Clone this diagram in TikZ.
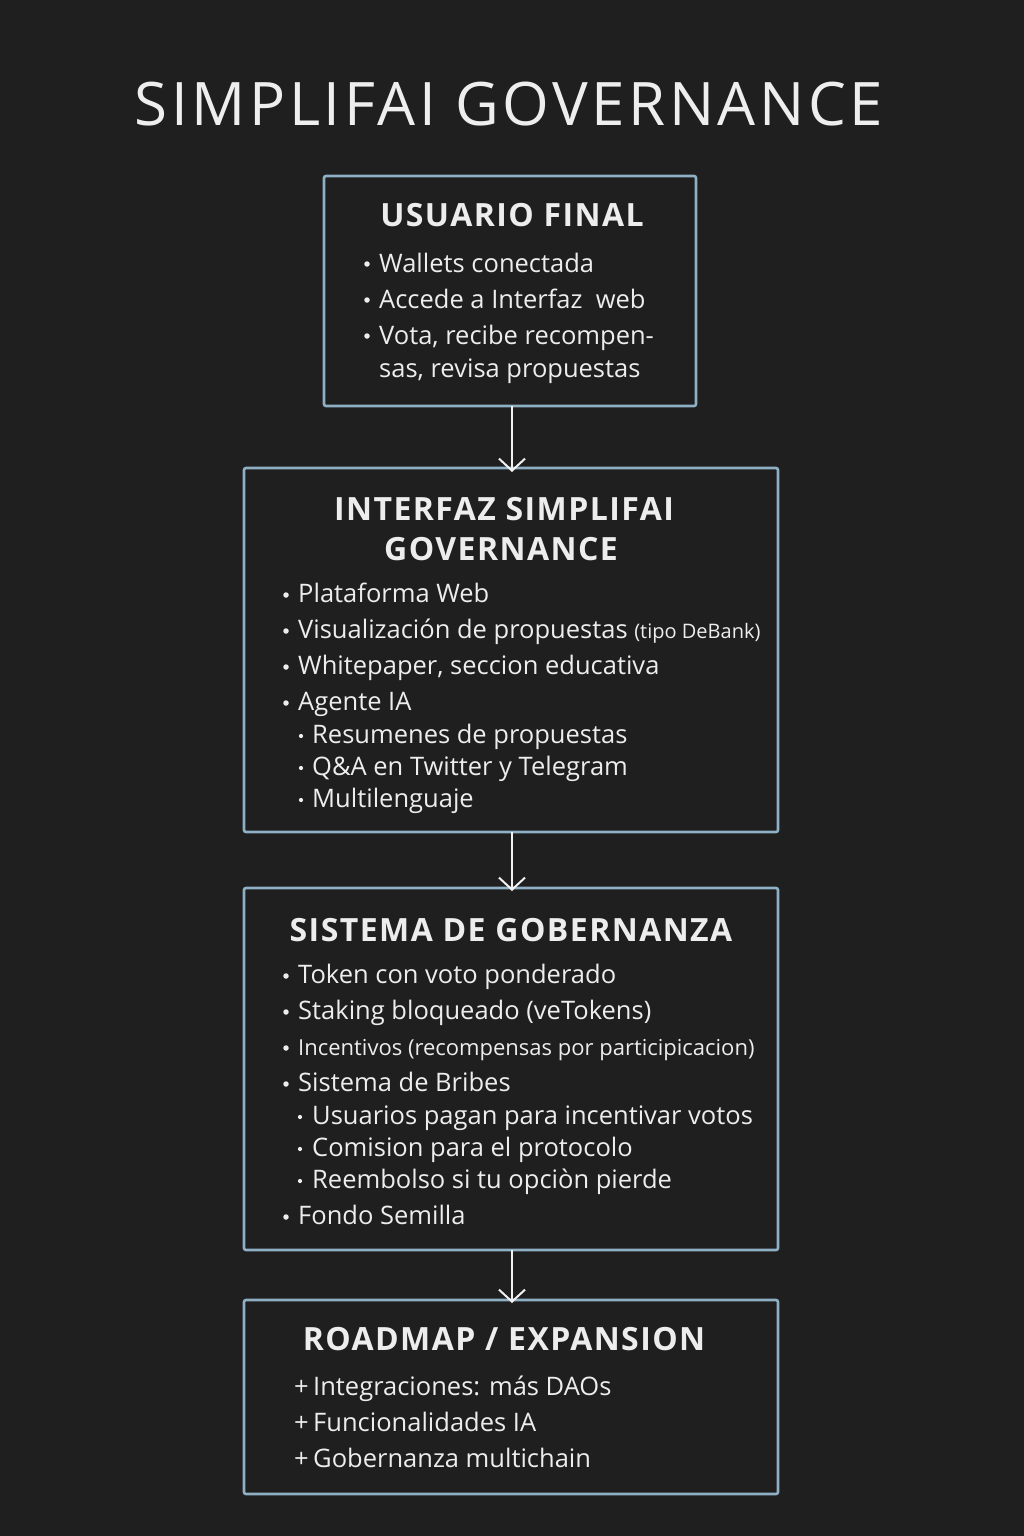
\documentclass[tikz,border=0pt]{standalone}
\usepackage{fontspec}
\setmainfont{Open Sans}
\usetikzlibrary{arrows.meta}
\definecolor{bg}{HTML}{1F1F1F}
\definecolor{frame}{HTML}{8FB0C4}
\definecolor{ink}{HTML}{EDEDED}
\newcommand{\bodyfont}{\fontsize{25.5}{30}\selectfont}
\newcommand{\smallbody}{\fontsize{20}{24}\selectfont}
\newcommand{\headfont}{\fontsize{32}{40}\selectfont\bfseries\addfontfeatures{LetterSpace=4.5}}
\tikzset{
  box/.style={draw=frame, line width=2.6pt, rounded corners=2pt, fill=bg},
  head/.style={text=ink, font=\headfont, inner sep=0pt, anchor=center, align=center},
  item/.style={text=ink, font=\bodyfont, inner sep=0pt, anchor=base west},
  dot/.style={circle, fill=ink, inner sep=0pt, minimum size=5.5pt},
  subdot/.style={circle, fill=ink, inner sep=0pt, minimum size=4.2pt},
  flow/.style={draw=ink!78, line width=2pt, -{Straight Barb[length=12pt,width=26pt,line width=2pt]}}
}
\begin{document}
\begin{tikzpicture}[x=1pt,y=-1pt]
\fill[bg] (0,0) rectangle (1024,1536);
\useasboundingbox (0,0) rectangle (1024,1536);
\node[text=ink!95, font=\fontsize{60}{70}\selectfont\addfontfeatures{LetterSpace=6}, inner sep=0pt] (title) at (509,104) {SIMPLIFAI GOVERNANCE};

% Box 1
\draw[box] (324,176) rectangle (696,406);
\coordinate (b1b) at (512,406);
\node[head] (h1) at (512,215) {USUARIO FINAL};
\node[dot] (d11) at (367,264) {}; \node[item] (t11) at (379,272) {Wallets conectada};
\node[dot] (d12) at (367,300) {}; \node[item] (t12) at (379,308) {Accede a Interfaz\ \ web};
\node[dot] (d13) at (367,336) {}; \node[item] (t13) at (379,344) {Vota, recibe recompen-};
\node[item] (t14) at (379,377) {sas, revisa propuestas};

% Box 2
\draw[box] (244,468) rectangle (778,832);
\coordinate (b2t) at (512,468); \coordinate (b2b) at (512,832);
\node[head] (h2a) at (504,509) {INTERFAZ SIMPLIFAI};
\node[head] (h2b) at (501,549) {GOVERNANCE};
\node[dot] (d21) at (286,595) {}; \node[item] (t21) at (298,602) {Plataforma Web};
\node[dot] (d22) at (286,631) {}; \node[item] (t22) at (298,638) {Visualización de propuestas {\smallbody(tipo DeBank)}};
\node[dot] (d23) at (286,667) {}; \node[item] (t23) at (298,674) {Whitepaper, seccion educativa};
\node[dot] (d24) at (286,703) {}; \node[item] (t24) at (298,710) {Agente IA};
\node[subdot] (d25) at (301,736) {}; \node[item] (t25) at (312,743) {Resumenes de propuestas};
\node[subdot] (d26) at (301,768) {}; \node[item] (t26) at (312,775) {Q\&A en Twitter y Telegram};
\node[subdot] (d27) at (301,800) {}; \node[item] (t27) at (312,807) {Multilenguaje};

% Box 3
\draw[box] (244,888) rectangle (778,1250);
\coordinate (b3t) at (512,888); \coordinate (b3b) at (512,1250);
\node[head] (h3) at (511,930) {SISTEMA DE GOBERNANZA};
\node[dot] (d31) at (286,976) {}; \node[item] (t31) at (298,983) {Token con voto ponderado};
\node[dot] (d32) at (286,1012) {}; \node[item] (t32) at (298,1019) {Staking bloqueado (veTokens)};
\node[dot] (d33) at (286,1048) {}; \node[item, font=\fontsize{22}{26}\selectfont] (t33) at (298,1055) {Incentivos (recompensas por participicacion)};
\node[dot] (d34) at (286,1084) {}; \node[item] (t34) at (298,1091) {Sistema de Bribes};
\node[subdot] (d35) at (300,1117) {}; \node[item] (t35) at (312,1124) {Usuarios pagan para incentivar votos};
\node[subdot] (d36) at (300,1149) {}; \node[item] (t36) at (312,1156) {Comision para el protocolo};
\node[subdot] (d37) at (300,1181) {}; \node[item] (t37) at (312,1188) {Reembolso si tu opciòn pierde};
\node[dot] (d38) at (286,1217) {}; \node[item] (t38) at (298,1224) {Fondo Semilla};

% Box 4
\draw[box] (244,1300) rectangle (778,1494);
\coordinate (b4t) at (512,1300);
\node[head] (h4) at (504,1339) {ROADMAP / EXPANSION};
\node[item] (p41) at (294,1395) {+}; \node[item] (t41) at (313,1395) {Integraciones: más DAOs};
\node[item] (p42) at (294,1431) {+}; \node[item] (t42) at (313,1431) {Funcionalidades IA};
\node[item] (p43) at (294,1467) {+}; \node[item] (t43) at (313,1467) {Gobernanza multichain};

% connectors
\draw[flow] (b1b) -- ([yshift=-4pt]b2t);
\draw[flow] (b2b) -- ([yshift=-3pt]b3t);
\draw[flow] (b3b) -- ([yshift=-3pt]b4t);
\end{tikzpicture}
\end{document}
